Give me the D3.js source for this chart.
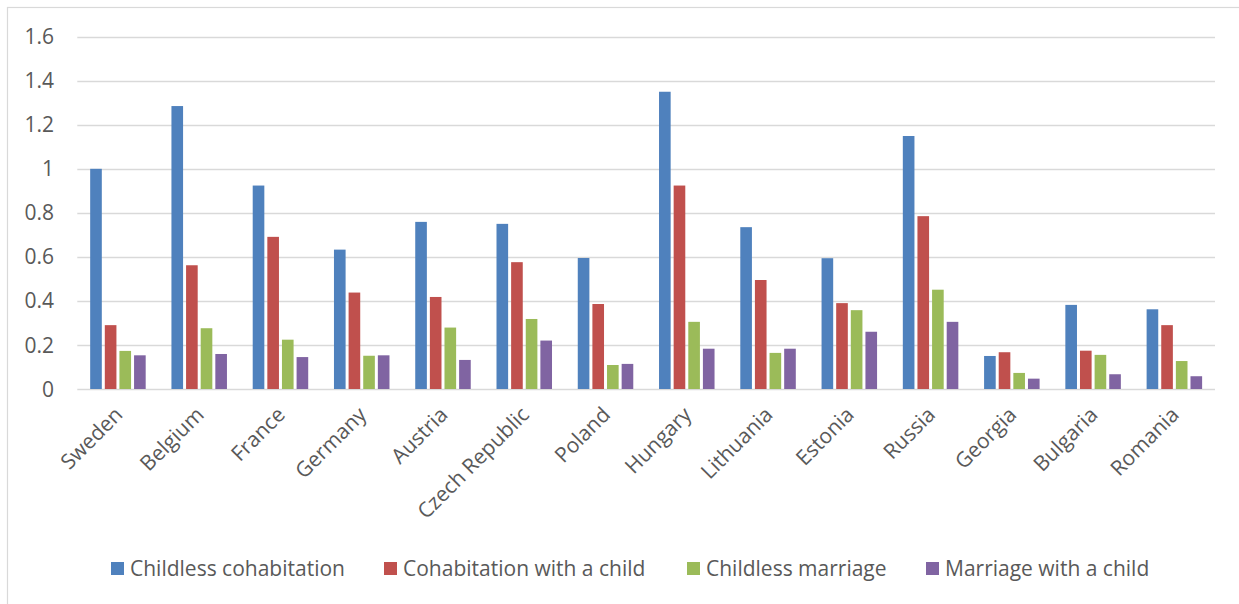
<!DOCTYPE html>
<html>
<head>
<meta charset="utf-8">
<script src="https://cdn.jsdelivr.net/npm/d3@7"></script>
<style>
  html, body { margin: 0; padding: 0; background: #fff; }
  svg { display: block; }
  text { font-family: "Open Sans", sans-serif; fill: #595959; }
</style>
</head>
<body>
<svg id="chart" width="1239" height="604"></svg>
<script>
const categories = ["Sweden","Belgium","France","Germany","Austria","Czech Republic","Poland","Hungary","Lithuania","Estonia","Russia","Georgia","Bulgaria","Romania"];
const seriesNames = ["Childless cohabitation","Cohabitation with a child","Childless marriage","Marriage with a child"];
const childlessCohabitation = [1.00,1.285,0.924,0.633,0.759,0.750,0.595,1.350,0.735,0.594,1.149,0.150,0.382,0.362];
const cohabitationWithChild = [0.290,0.562,0.691,0.438,0.418,0.576,0.386,0.924,0.495,0.390,0.785,0.167,0.174,0.290];
const childlessMarriage     = [0.173,0.276,0.224,0.151,0.279,0.318,0.109,0.305,0.164,0.358,0.451,0.073,0.155,0.127];
const marriageWithChild     = [0.153,0.159,0.145,0.153,0.132,0.220,0.114,0.183,0.183,0.260,0.305,0.047,0.067,0.058];
const yTicks = [0,0.2,0.4,0.6,0.8,1,1.2,1.4,1.6];
const tickLabels = ["0","0.2","0.4","0.6","0.8","1","1.2","1.4","1.6"];
const colors = ["#4F81BD","#C0504D","#9BBB59","#8064A2"];

const seriesValues = [childlessCohabitation, cohabitationWithChild, childlessMarriage, marriageWithChild];

const svg = d3.select("#chart");

// outer chart border
svg.append("rect").attr("x",7.5).attr("y",7.5).attr("width",1240).attr("height",610)
  .attr("fill","none").attr("stroke","#d9d9d9").attr("stroke-width",1.2);

const plotLeft = 77.3, plotRight = 1215, plotTop = 36.7, plotBottom = 389;
const y = d3.scaleLinear().domain([0,1.6]).range([plotBottom, plotTop]);
const x0 = d3.scaleBand().domain(categories).range([plotLeft, plotRight]).paddingInner(0.28).paddingOuter(0.14);
const x1 = d3.scaleBand().domain(seriesNames).range([0, x0.bandwidth()]);

// gridlines
svg.append("g").selectAll("line").data(yTicks).join("line")
  .attr("x1", plotLeft).attr("x2", plotRight)
  .attr("y1", d => Math.round(y(d)) + 0.5).attr("y2", d => Math.round(y(d)) + 0.5)
  .attr("stroke", "#d9d9d9").attr("stroke-width", 1.5);

// y labels
svg.append("g").selectAll("text").data(yTicks).join("text")
  .attr("x", 54).attr("y", d => y(d)).attr("dy","0.36em")
  .attr("text-anchor","end").style("font-size","21px")
  .text((d,i) => tickLabels[i]);

// bars
const groups = svg.append("g").selectAll("g").data(categories).join("g")
  .attr("transform", d => `translate(${x0(d)},0)`);
groups.selectAll("rect").data((c, ci) => seriesNames.map((s, si) => ({s, si, v: seriesValues[si][ci]})))
  .join("rect")
  .attr("x", d => x1(d.s) + 1.5)
  .attr("width", x1.bandwidth() - 3)
  .attr("y", d => y(d.v))
  .attr("height", d => y(0) - y(d.v))
  .attr("fill", d => colors[d.si]);

// category labels
svg.append("g").selectAll("text").data(categories).join("text")
  .attr("text-anchor","end")
  .style("font-size","21px")
  .attr("transform", d => `translate(${x0(d) + x0.bandwidth()/2 + 6},${plotBottom + 27}) rotate(-45)`)
  .text(d => d);

// legend
const legendX = [111, 384, 687, 926];
const lg = svg.append("g").selectAll("g").data(seriesNames).join("g")
  .attr("transform", (d,i) => `translate(${legendX[i]},562)`);
lg.append("rect").attr("width",13).attr("height",13).attr("fill",(d,i)=>colors[i]);
lg.append("text").attr("x",19).attr("y",6.5).attr("dy","0.36em").style("font-size","21px").text(d=>d);
</script>
</body>
</html>
